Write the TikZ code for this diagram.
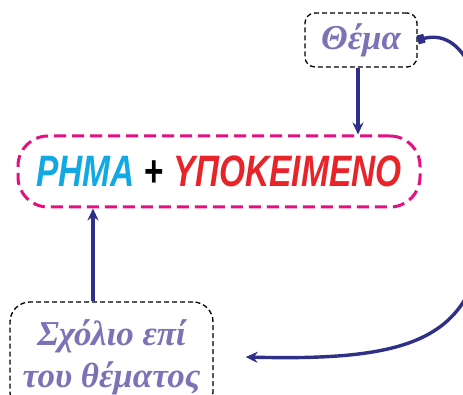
\documentclass[tikz,border=0pt]{standalone}
\usepackage{fontspec}
\usepackage{graphicx}
\setmainfont{Liberation Serif}
\newfontfamily\boldsans{Liberation Sans}
\usetikzlibrary{arrows.meta}
\definecolor{cyanT}{HTML}{12A8E3}
\definecolor{redT}{HTML}{E8242B}
\definecolor{magB}{HTML}{E4107F}
\definecolor{arrB}{HTML}{2E2F86}
\definecolor{purT}{HTML}{7B72B7}
\tikzset{
  dashbox/.style={draw=black, line width=1.3pt, dash pattern=on 5pt off 3pt, rounded corners=10pt},
  mainbox/.style={draw=magB, line width=3pt, dash pattern=on 12pt off 6pt, rounded corners=30pt},
  purtext/.style={text=purT, font=\fontsize{35}{46}\selectfont\bfseries\itshape, align=center},
  conn/.style={draw=arrB, line width=3.4pt, -{Stealth[length=12pt,width=11pt]}},
}
\begin{document}
\begin{tikzpicture}[x=1pt,y=-1pt]
\useasboundingbox (0,0) rectangle (463,395);
\node[dashbox, minimum width=112pt, minimum height=54pt, purtext, inner sep=0pt] (thema) at (361,40) {Θέμα};
\node[mainbox, minimum width=402pt, minimum height=71pt, inner sep=0pt] (main) at (219,171.5)
  {\scalebox{0.76}[1]{\fontsize{44}{50}\boldsans\bfseries\itshape\textcolor{cyanT}{ΡΗΜΑ} \textcolor{black}{\upshape +} \textcolor{redT}{ΥΠΟΚΕΙΜΕΝΟ}}};
\node[dashbox, rounded corners=20pt, minimum width=203pt, minimum height=110pt, purtext, inner sep=0pt] (sx) at (111.5,357)
  {Σχόλιο επί\\[-4pt]του θέματος};
\draw[conn] ([xshift=-3pt]thema.south) -- ([xshift=-3pt]thema.south |- main.north);
\draw[conn] ([xshift=-18.5pt]sx.north) -- ([xshift=-18.5pt]sx.north |- main.south);
\draw[draw=arrB, line width=3.4pt, {Square[length=7pt,width=9pt]}-{Stealth[length=12pt,width=11pt]}]
  (thema.east) .. controls (470,26) and (490,100) .. (488,180)
  .. controls (487,330) and (440,362) .. ([xshift=32pt]sx.east);
\end{tikzpicture}
\end{document}
